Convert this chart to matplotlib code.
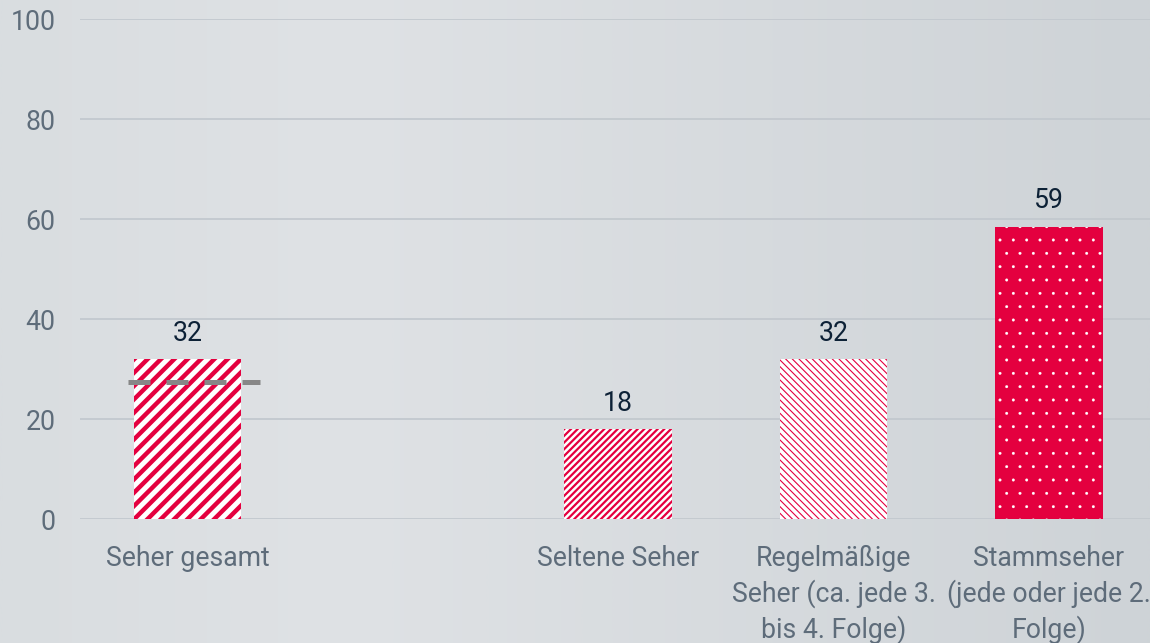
import numpy as np
import matplotlib
matplotlib.use("Agg")
import matplotlib.pyplot as plt
from matplotlib.colors import LinearSegmentedColormap

# ---- data ----
categories = ["Seher gesamt", "", "Seltene Seher",
              "Regelmäßige\nSeher (ca. jede 3.\nbis 4. Folge)",
              "Stammseher\n(jede oder jede 2.\nFolge)"]
bar_positions = [0, 2, 3, 4]
bar_values = [32, 18, 32, 58.5]
value_labels = ["32", "18", "32", "59"]
reference_value = 27.5
y_ticks = [0, 20, 40, 60, 80, 100]

RED = "#e4003f"
plt.rcParams['font.family'] = ['Roboto', 'DejaVu Sans']

DPI = 80
fig = plt.figure(figsize=(1150 / DPI, 643 / DPI), dpi=DPI)

# background gradient
bg = fig.add_axes([0, 0, 1, 1], zorder=-10)
bg.axis("off")
cmap = LinearSegmentedColormap.from_list(
    "bg", [(0.0, "#d9dde0"), (0.3, "#dfe2e5"), (1.0, "#ced3d7")])
grad = np.linspace(0, 1, 512)[None, :]
bg.imshow(grad, cmap=cmap, aspect="auto", extent=[0, 1, 0, 1])
bg.set_xlim(0, 1)
bg.set_ylim(0, 1)

ax = fig.add_axes([80 / 1150, (643 - 519) / 643, 1 - 80 / 1150, 500 / 643])
ax.set_facecolor("none")
ax.set_xlim(-0.5, 4.47)
ax.set_ylim(0, 100)

for s in ax.spines.values():
    s.set_visible(False)
ax.set_yticks(y_ticks)
ax.yaxis.grid(True, color="#c2c8ce", linewidth=1.6)
ax.set_axisbelow(True)
ax.tick_params(axis="y", length=0, pad=22, labelsize=24, labelcolor="#5e6c7a")
ax.set_xticks(range(len(categories)))
ax.set_xticklabels(categories, linespacing=1.33)
ax.tick_params(axis="x", length=0, pad=23, labelsize=24, labelcolor="#5e6c7a")

styles = [
    dict(face="white", edge=RED, hatch="//", hlw=4.0),
    dict(face="white", edge=RED, hatch="////", hlw=2.0),
    dict(face="white", edge=RED, hatch="\\\\\\\\", hlw=1.0),
    dict(face=RED, edge="white", hatch=".", hlw=0.2),
]

for x, v, lab, st in zip(bar_positions, bar_values, value_labels, styles):
    with plt.rc_context({"hatch.linewidth": st["hlw"]}):
        bars = ax.bar([x], [v], width=0.5, color=st["face"], edgecolor=st["edge"],
                      hatch=st["hatch"], linewidth=0, zorder=3)
    for b in bars:
        if hasattr(b, "set_hatch_linewidth"):
            b.set_hatch_linewidth(st["hlw"])
    ax.annotate(lab, (x, v), xytext=(0, 11), textcoords="offset points",
                ha="center", va="bottom", fontsize=24, color="#0d2136")

ax.plot([-0.279, 0.334], [reference_value, reference_value], color="#878787",
        linewidth=4.5, dashes=(4.4, 3.2), solid_capstyle="butt",
        dash_capstyle="butt", zorder=4)

fig.savefig("out.png", dpi=DPI)
